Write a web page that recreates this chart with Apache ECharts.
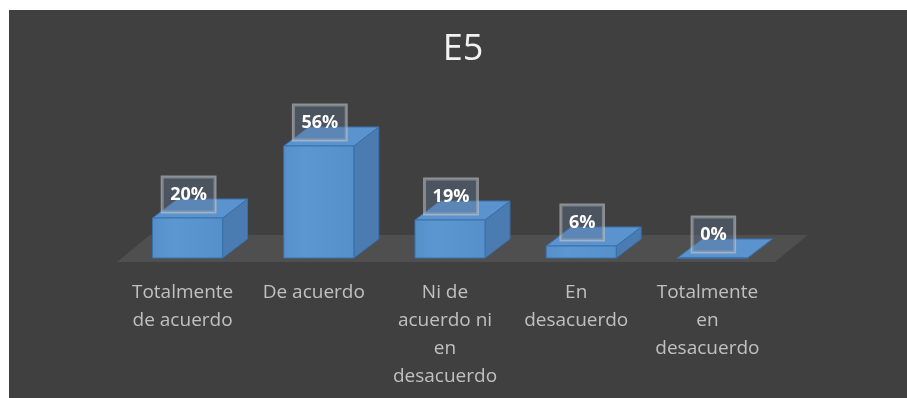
<!DOCTYPE html>
<html>
<head>
<meta charset="utf-8">
<title>E5</title>
<script src="https://cdn.jsdelivr.net/npm/echarts@6/dist/echarts.min.js"></script>
<style>
  html, body { margin: 0; padding: 0; background: #ffffff; }
  #wrap { position: relative; width: 907px; height: 398px; background: #ffffff; overflow: hidden; }
  #chart { position: absolute; left: 9px; top: 10px; width: 898px; height: 388px; }
</style>
</head>
<body>
<div id="wrap"><div id="chart"></div></div>
<script>
// Survey answers for item E5
const categories = [
  'Totalmente\nde acuerdo',
  'De acuerdo',
  'Ni de\nacuerdo ni\nen\ndesacuerdo',
  'En\ndesacuerdo',
  'Totalmente\nen\ndesacuerdo'
];
const percentages = [20, 56, 19, 6, 0];
const chartTitle = 'E5';

const FONT = '"Open Sans", "Noto Sans", sans-serif';

// 3D-looking column: front face, right side and top face, plus a boxed value label
function renderBox(params, api) {
  const idx = api.value(0);
  const v = api.value(1);
  const base = api.coord([idx, 0]);
  const top = api.coord([idx, v]);
  const band = api.size([1, 0])[0];
  const w = band * 0.534;
  const dx = band * 0.19;
  const dy = band * 0.145;
  const x0 = base[0] - w / 2;
  const x1 = base[0] + w / 2;
  const yb = base[1];
  const yt = top[1];
  const stroke = '#3a70aa';
  const children = [
    {
      type: 'polygon',
      shape: { points: [[x1, yt], [x1 + dx, yt - dy], [x1 + dx, yb - dy], [x1, yb]] },
      style: { fill: '#4a7bb1', stroke: stroke, lineWidth: 1 }
    },
    {
      type: 'polygon',
      shape: { points: [[x0, yt], [x1, yt], [x1 + dx, yt - dy], [x0 + dx, yt - dy]] },
      style: { fill: '#5a93cd', stroke: stroke, lineWidth: 1 }
    },
    {
      type: 'rect',
      shape: { x: x0, y: yt, width: w, height: yb - yt },
      style: {
        fill: {
          type: 'linear', x: 0, y: 0, x2: 1, y2: 0,
          colorStops: [
            { offset: 0, color: '#5690cb' },
            { offset: 0.3, color: '#5c97d2' },
            { offset: 1, color: '#5690cb' }
          ]
        },
        stroke: stroke,
        lineWidth: 1
      }
    },
    {
      type: 'text',
      x: base[0] + 1,
      y: yt - 6,
      style: {
        text: v + '%',
        align: 'center',
        verticalAlign: 'bottom',
        fill: '#ffffff',
        font: 'bold 18px ' + FONT,
        lineHeight: 20,
        backgroundColor: 'rgba(95, 115, 145, 0.4)',
        borderColor: 'rgba(200, 200, 200, 0.6)',
        borderWidth: 1.5,
        padding: [8, 8, 7, 8]
      }
    }
  ];
  return { type: 'group', children: children };
}

// Gray floor under the columns, spanning the whole plot width
function renderFloor(params, api) {
  const cs = params.coordSys;
  const band = cs.width / categories.length;
  const yf = cs.y + cs.height + 4;
  const xl = cs.x - 5;
  const xr = cs.x + cs.width - 3;
  const dx = band * 0.25;
  const dy = band * 0.205;
  return {
    type: 'polygon',
    silent: true,
    shape: { points: [[xl, yf], [xr, yf], [xr + dx, yf - dy], [xl + dx, yf - dy]] },
    style: { fill: '#4f4f4f' }
  };
}

const chart = echarts.init(document.getElementById('chart'), null, { renderer: 'canvas' });
chart.setOption({
  backgroundColor: '#404040',
  animation: false,
  title: {
    text: chartTitle,
    left: 449,
    top: 17,
    textAlign: 'center',
    textStyle: { color: '#f2f2f2', fontFamily: FONT, fontSize: 36, fontWeight: 'normal' }
  },
  grid: { left: 113, right: 129, top: 48, bottom: 140 },
  xAxis: {
    type: 'category',
    data: categories,
    axisLine: { show: false },
    axisTick: { show: false },
    splitLine: { show: false },
    axisLabel: {
      interval: 0,
      margin: 21,
      color: '#c0c0c0',
      fontFamily: FONT,
      fontSize: 19,
      lineHeight: 28,
      align: 'center',
      padding: [0, 10, 0, 0]
    }
  },
  yAxis: {
    type: 'value',
    min: 0,
    max: 100,
    show: false,
    splitLine: { show: false }
  },
  series: [
    {
      type: 'custom',
      renderItem: renderFloor,
      data: [[0, 0]],
      silent: true,
      z: 1
    },
    {
      type: 'custom',
      renderItem: renderBox,
      data: percentages.map(function (p, i) { return [i, p]; }),
      encode: { x: 0, y: 1 },
      z: 2
    }
  ]
});
</script>
</body>
</html>
